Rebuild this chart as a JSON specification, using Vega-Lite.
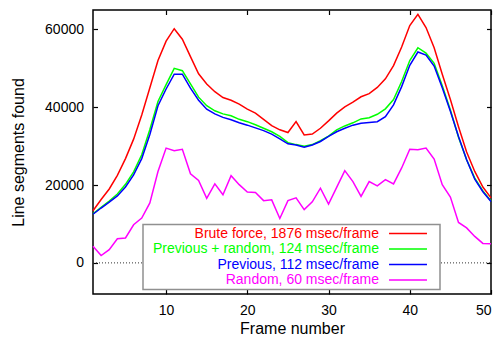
{
  "$schema": "https://vega.github.io/schema/vega-lite/v6.json",
  "width": 398,
  "height": 284,
  "autosize": {"type": "none"},
  "padding": {"left": 93, "top": 10, "right": 11, "bottom": 43},
  "background": "white",
  "config": {
    "view": {"stroke": "black", "strokeWidth": 1.5},
    "font": "Liberation Sans",
    "axis": {
      "grid": false, "domain": false, "tickColor": "black", "tickSize": -4.5, "tickWidth": 1.2,
      "labelFont": "Liberation Sans", "labelFontSize": 14, "labelColor": "black", "format": "d",
      "titleFont": "Liberation Sans", "titleFontSize": 16, "titleFontWeight": "normal", "titleColor": "black"
    }
  },
  "data": {"values": [
    {"frame":1,"series":"Brute force, 1876 msec/frame","count":13400},
    {"frame":2,"series":"Brute force, 1876 msec/frame","count":16300},
    {"frame":3,"series":"Brute force, 1876 msec/frame","count":19000},
    {"frame":4,"series":"Brute force, 1876 msec/frame","count":22500},
    {"frame":5,"series":"Brute force, 1876 msec/frame","count":26800},
    {"frame":6,"series":"Brute force, 1876 msec/frame","count":31800},
    {"frame":7,"series":"Brute force, 1876 msec/frame","count":38000},
    {"frame":8,"series":"Brute force, 1876 msec/frame","count":45000},
    {"frame":9,"series":"Brute force, 1876 msec/frame","count":52000},
    {"frame":10,"series":"Brute force, 1876 msec/frame","count":57000},
    {"frame":11,"series":"Brute force, 1876 msec/frame","count":60200},
    {"frame":12,"series":"Brute force, 1876 msec/frame","count":57500},
    {"frame":13,"series":"Brute force, 1876 msec/frame","count":53000},
    {"frame":14,"series":"Brute force, 1876 msec/frame","count":48600},
    {"frame":15,"series":"Brute force, 1876 msec/frame","count":46000},
    {"frame":16,"series":"Brute force, 1876 msec/frame","count":44000},
    {"frame":17,"series":"Brute force, 1876 msec/frame","count":42500},
    {"frame":18,"series":"Brute force, 1876 msec/frame","count":41800},
    {"frame":19,"series":"Brute force, 1876 msec/frame","count":40800},
    {"frame":20,"series":"Brute force, 1876 msec/frame","count":39500},
    {"frame":21,"series":"Brute force, 1876 msec/frame","count":38500},
    {"frame":22,"series":"Brute force, 1876 msec/frame","count":36900},
    {"frame":23,"series":"Brute force, 1876 msec/frame","count":35300},
    {"frame":24,"series":"Brute force, 1876 msec/frame","count":34200},
    {"frame":25,"series":"Brute force, 1876 msec/frame","count":33500},
    {"frame":26,"series":"Brute force, 1876 msec/frame","count":36300},
    {"frame":27,"series":"Brute force, 1876 msec/frame","count":32900},
    {"frame":28,"series":"Brute force, 1876 msec/frame","count":33100},
    {"frame":29,"series":"Brute force, 1876 msec/frame","count":34600},
    {"frame":30,"series":"Brute force, 1876 msec/frame","count":36500},
    {"frame":31,"series":"Brute force, 1876 msec/frame","count":38500},
    {"frame":32,"series":"Brute force, 1876 msec/frame","count":40100},
    {"frame":33,"series":"Brute force, 1876 msec/frame","count":41300},
    {"frame":34,"series":"Brute force, 1876 msec/frame","count":42700},
    {"frame":35,"series":"Brute force, 1876 msec/frame","count":43500},
    {"frame":36,"series":"Brute force, 1876 msec/frame","count":45100},
    {"frame":37,"series":"Brute force, 1876 msec/frame","count":47300},
    {"frame":38,"series":"Brute force, 1876 msec/frame","count":50700},
    {"frame":39,"series":"Brute force, 1876 msec/frame","count":55500},
    {"frame":40,"series":"Brute force, 1876 msec/frame","count":61000},
    {"frame":41,"series":"Brute force, 1876 msec/frame","count":63900},
    {"frame":42,"series":"Brute force, 1876 msec/frame","count":60500},
    {"frame":43,"series":"Brute force, 1876 msec/frame","count":55300},
    {"frame":44,"series":"Brute force, 1876 msec/frame","count":48500},
    {"frame":45,"series":"Brute force, 1876 msec/frame","count":42000},
    {"frame":46,"series":"Brute force, 1876 msec/frame","count":35000},
    {"frame":47,"series":"Brute force, 1876 msec/frame","count":28500},
    {"frame":48,"series":"Brute force, 1876 msec/frame","count":23500},
    {"frame":49,"series":"Brute force, 1876 msec/frame","count":19500},
    {"frame":50,"series":"Brute force, 1876 msec/frame","count":16700},
    {"frame":1,"series":"Previous + random, 124 msec/frame","count":12600},
    {"frame":2,"series":"Previous + random, 124 msec/frame","count":14300},
    {"frame":3,"series":"Previous + random, 124 msec/frame","count":15900},
    {"frame":4,"series":"Previous + random, 124 msec/frame","count":17700},
    {"frame":5,"series":"Previous + random, 124 msec/frame","count":20200},
    {"frame":6,"series":"Previous + random, 124 msec/frame","count":23400},
    {"frame":7,"series":"Previous + random, 124 msec/frame","count":27800},
    {"frame":8,"series":"Previous + random, 124 msec/frame","count":34300},
    {"frame":9,"series":"Previous + random, 124 msec/frame","count":41500},
    {"frame":10,"series":"Previous + random, 124 msec/frame","count":45800},
    {"frame":11,"series":"Previous + random, 124 msec/frame","count":50000},
    {"frame":12,"series":"Previous + random, 124 msec/frame","count":49400},
    {"frame":13,"series":"Previous + random, 124 msec/frame","count":46000},
    {"frame":14,"series":"Previous + random, 124 msec/frame","count":42600},
    {"frame":15,"series":"Previous + random, 124 msec/frame","count":40400},
    {"frame":16,"series":"Previous + random, 124 msec/frame","count":39100},
    {"frame":17,"series":"Previous + random, 124 msec/frame","count":38300},
    {"frame":18,"series":"Previous + random, 124 msec/frame","count":37800},
    {"frame":19,"series":"Previous + random, 124 msec/frame","count":36900},
    {"frame":20,"series":"Previous + random, 124 msec/frame","count":36300},
    {"frame":21,"series":"Previous + random, 124 msec/frame","count":35500},
    {"frame":22,"series":"Previous + random, 124 msec/frame","count":34600},
    {"frame":23,"series":"Previous + random, 124 msec/frame","count":33700},
    {"frame":24,"series":"Previous + random, 124 msec/frame","count":32500},
    {"frame":25,"series":"Previous + random, 124 msec/frame","count":30900},
    {"frame":26,"series":"Previous + random, 124 msec/frame","count":30400},
    {"frame":27,"series":"Previous + random, 124 msec/frame","count":30000},
    {"frame":28,"series":"Previous + random, 124 msec/frame","count":30400},
    {"frame":29,"series":"Previous + random, 124 msec/frame","count":31400},
    {"frame":30,"series":"Previous + random, 124 msec/frame","count":32600},
    {"frame":31,"series":"Previous + random, 124 msec/frame","count":34200},
    {"frame":32,"series":"Previous + random, 124 msec/frame","count":35200},
    {"frame":33,"series":"Previous + random, 124 msec/frame","count":36000},
    {"frame":34,"series":"Previous + random, 124 msec/frame","count":37000},
    {"frame":35,"series":"Previous + random, 124 msec/frame","count":37300},
    {"frame":36,"series":"Previous + random, 124 msec/frame","count":38200},
    {"frame":37,"series":"Previous + random, 124 msec/frame","count":39600},
    {"frame":38,"series":"Previous + random, 124 msec/frame","count":42000},
    {"frame":39,"series":"Previous + random, 124 msec/frame","count":46600},
    {"frame":40,"series":"Previous + random, 124 msec/frame","count":52000},
    {"frame":41,"series":"Previous + random, 124 msec/frame","count":55300},
    {"frame":42,"series":"Previous + random, 124 msec/frame","count":53900},
    {"frame":43,"series":"Previous + random, 124 msec/frame","count":51300},
    {"frame":44,"series":"Previous + random, 124 msec/frame","count":45500},
    {"frame":45,"series":"Previous + random, 124 msec/frame","count":39300},
    {"frame":46,"series":"Previous + random, 124 msec/frame","count":32300},
    {"frame":47,"series":"Previous + random, 124 msec/frame","count":26500},
    {"frame":48,"series":"Previous + random, 124 msec/frame","count":21800},
    {"frame":49,"series":"Previous + random, 124 msec/frame","count":18500},
    {"frame":50,"series":"Previous + random, 124 msec/frame","count":15900},
    {"frame":1,"series":"Previous, 112 msec/frame","count":12500},
    {"frame":2,"series":"Previous, 112 msec/frame","count":14100},
    {"frame":3,"series":"Previous, 112 msec/frame","count":15600},
    {"frame":4,"series":"Previous, 112 msec/frame","count":17200},
    {"frame":5,"series":"Previous, 112 msec/frame","count":19500},
    {"frame":6,"series":"Previous, 112 msec/frame","count":22600},
    {"frame":7,"series":"Previous, 112 msec/frame","count":26800},
    {"frame":8,"series":"Previous, 112 msec/frame","count":33000},
    {"frame":9,"series":"Previous, 112 msec/frame","count":40400},
    {"frame":10,"series":"Previous, 112 msec/frame","count":44700},
    {"frame":11,"series":"Previous, 112 msec/frame","count":48500},
    {"frame":12,"series":"Previous, 112 msec/frame","count":48500},
    {"frame":13,"series":"Previous, 112 msec/frame","count":44900},
    {"frame":14,"series":"Previous, 112 msec/frame","count":41800},
    {"frame":15,"series":"Previous, 112 msec/frame","count":39500},
    {"frame":16,"series":"Previous, 112 msec/frame","count":38300},
    {"frame":17,"series":"Previous, 112 msec/frame","count":37400},
    {"frame":18,"series":"Previous, 112 msec/frame","count":36800},
    {"frame":19,"series":"Previous, 112 msec/frame","count":36000},
    {"frame":20,"series":"Previous, 112 msec/frame","count":35400},
    {"frame":21,"series":"Previous, 112 msec/frame","count":34700},
    {"frame":22,"series":"Previous, 112 msec/frame","count":34000},
    {"frame":23,"series":"Previous, 112 msec/frame","count":33100},
    {"frame":24,"series":"Previous, 112 msec/frame","count":31900},
    {"frame":25,"series":"Previous, 112 msec/frame","count":30600},
    {"frame":26,"series":"Previous, 112 msec/frame","count":30300},
    {"frame":27,"series":"Previous, 112 msec/frame","count":29700},
    {"frame":28,"series":"Previous, 112 msec/frame","count":30300},
    {"frame":29,"series":"Previous, 112 msec/frame","count":31200},
    {"frame":30,"series":"Previous, 112 msec/frame","count":32500},
    {"frame":31,"series":"Previous, 112 msec/frame","count":33700},
    {"frame":32,"series":"Previous, 112 msec/frame","count":34600},
    {"frame":33,"series":"Previous, 112 msec/frame","count":35400},
    {"frame":34,"series":"Previous, 112 msec/frame","count":35900},
    {"frame":35,"series":"Previous, 112 msec/frame","count":36100},
    {"frame":36,"series":"Previous, 112 msec/frame","count":36300},
    {"frame":37,"series":"Previous, 112 msec/frame","count":37600},
    {"frame":38,"series":"Previous, 112 msec/frame","count":40600},
    {"frame":39,"series":"Previous, 112 msec/frame","count":45300},
    {"frame":40,"series":"Previous, 112 msec/frame","count":50800},
    {"frame":41,"series":"Previous, 112 msec/frame","count":54200},
    {"frame":42,"series":"Previous, 112 msec/frame","count":53400},
    {"frame":43,"series":"Previous, 112 msec/frame","count":50600},
    {"frame":44,"series":"Previous, 112 msec/frame","count":45000},
    {"frame":45,"series":"Previous, 112 msec/frame","count":39000},
    {"frame":46,"series":"Previous, 112 msec/frame","count":32500},
    {"frame":47,"series":"Previous, 112 msec/frame","count":26500},
    {"frame":48,"series":"Previous, 112 msec/frame","count":21500},
    {"frame":49,"series":"Previous, 112 msec/frame","count":18300},
    {"frame":50,"series":"Previous, 112 msec/frame","count":15800},
    {"frame":1,"series":"Random, 60 msec/frame","count":4300},
    {"frame":2,"series":"Random, 60 msec/frame","count":1900},
    {"frame":3,"series":"Random, 60 msec/frame","count":3400},
    {"frame":4,"series":"Random, 60 msec/frame","count":6200},
    {"frame":5,"series":"Random, 60 msec/frame","count":6400},
    {"frame":6,"series":"Random, 60 msec/frame","count":9800},
    {"frame":7,"series":"Random, 60 msec/frame","count":11500},
    {"frame":8,"series":"Random, 60 msec/frame","count":15400},
    {"frame":9,"series":"Random, 60 msec/frame","count":23500},
    {"frame":10,"series":"Random, 60 msec/frame","count":29500},
    {"frame":11,"series":"Random, 60 msec/frame","count":28800},
    {"frame":12,"series":"Random, 60 msec/frame","count":29200},
    {"frame":13,"series":"Random, 60 msec/frame","count":22900},
    {"frame":14,"series":"Random, 60 msec/frame","count":21200},
    {"frame":15,"series":"Random, 60 msec/frame","count":16600},
    {"frame":16,"series":"Random, 60 msec/frame","count":20300},
    {"frame":17,"series":"Random, 60 msec/frame","count":17500},
    {"frame":18,"series":"Random, 60 msec/frame","count":22400},
    {"frame":19,"series":"Random, 60 msec/frame","count":20100},
    {"frame":20,"series":"Random, 60 msec/frame","count":18200},
    {"frame":21,"series":"Random, 60 msec/frame","count":18100},
    {"frame":22,"series":"Random, 60 msec/frame","count":16000},
    {"frame":23,"series":"Random, 60 msec/frame","count":16200},
    {"frame":24,"series":"Random, 60 msec/frame","count":11400},
    {"frame":25,"series":"Random, 60 msec/frame","count":16000},
    {"frame":26,"series":"Random, 60 msec/frame","count":16700},
    {"frame":27,"series":"Random, 60 msec/frame","count":13700},
    {"frame":28,"series":"Random, 60 msec/frame","count":15700},
    {"frame":29,"series":"Random, 60 msec/frame","count":19200},
    {"frame":30,"series":"Random, 60 msec/frame","count":15100},
    {"frame":31,"series":"Random, 60 msec/frame","count":19400},
    {"frame":32,"series":"Random, 60 msec/frame","count":23700},
    {"frame":33,"series":"Random, 60 msec/frame","count":20900},
    {"frame":34,"series":"Random, 60 msec/frame","count":17100},
    {"frame":35,"series":"Random, 60 msec/frame","count":20900},
    {"frame":36,"series":"Random, 60 msec/frame","count":19800},
    {"frame":37,"series":"Random, 60 msec/frame","count":21400},
    {"frame":38,"series":"Random, 60 msec/frame","count":20300},
    {"frame":39,"series":"Random, 60 msec/frame","count":24400},
    {"frame":40,"series":"Random, 60 msec/frame","count":29200},
    {"frame":41,"series":"Random, 60 msec/frame","count":29100},
    {"frame":42,"series":"Random, 60 msec/frame","count":29500},
    {"frame":43,"series":"Random, 60 msec/frame","count":26700},
    {"frame":44,"series":"Random, 60 msec/frame","count":20100},
    {"frame":45,"series":"Random, 60 msec/frame","count":16900},
    {"frame":46,"series":"Random, 60 msec/frame","count":10400},
    {"frame":47,"series":"Random, 60 msec/frame","count":9000},
    {"frame":48,"series":"Random, 60 msec/frame","count":6800},
    {"frame":49,"series":"Random, 60 msec/frame","count":5000},
    {"frame":50,"series":"Random, 60 msec/frame","count":4900}
  ]},
  "layer": [
    {
      "data": {"values": [{"level": 0}]},
      "mark": {"type": "rule", "color": "#333333", "strokeDash": [1, 2], "strokeWidth": 1},
      "encoding": {
        "x": {"datum": 1, "type": "quantitative", "scale": {"domain": [1, 50], "nice": false, "zero": false},
              "axis": {"orient": "top", "labels": false, "values": [10, 20, 30, 40, 50], "title": null}},
        "x2": {"datum": 50},
        "y": {"field": "level", "type": "quantitative", "scale": {"domain": [-8000, 65000], "nice": false, "zero": false},
              "axis": {"orient": "right", "labels": false, "values": [0, 20000, 40000, 60000], "title": null}}
      }
    },
    {
      "mark": {"type": "line", "strokeWidth": 1.5},
      "encoding": {
        "x": {"field": "frame", "type": "quantitative", "scale": {"domain": [1, 50], "nice": false, "zero": false},
              "axis": {"orient": "bottom", "values": [10, 20, 30, 40, 50], "title": "Frame number", "labelPadding": 14, "titlePadding": 3}},
        "y": {"field": "count", "type": "quantitative", "scale": {"domain": [-8000, 65000], "nice": false, "zero": false},
              "axis": {"orient": "left", "values": [0, 20000, 40000, 60000], "title": "Line segments found", "labelPadding": 14, "titlePadding": 18.5}},
        "color": {"field": "series", "type": "nominal",
          "scale": {"domain": ["Brute force, 1876 msec/frame", "Previous + random, 124 msec/frame", "Previous, 112 msec/frame", "Random, 60 msec/frame"],
                    "range": ["#ff0000", "#00ff00", "#0000ff", "#ff00ff"]},
          "legend": {"orient": "none", "legendX": 50, "legendY": 214.5, "title": null,
            "symbolType": "M-4,0H4M5.5,0", "symbolSize": 90, "symbolStrokeWidth": 1.5, "symbolOffset": 256,
            "labelAlign": "right", "labelOffset": -36, "labelFont": "Liberation Sans", "labelFontSize": 14, "labelLimit": 400,
            "padding": 2, "rowPadding": 1.5, "strokeColor": "#909090", "fillColor": "white",
            "encode": {"labels": {"update": {"fill": {"scale": "color", "field": "value"}}},
                       "legend": {"update": {"strokeWidth": {"value": 1.5}}}}}
        }
      }
    }
  ]
}
